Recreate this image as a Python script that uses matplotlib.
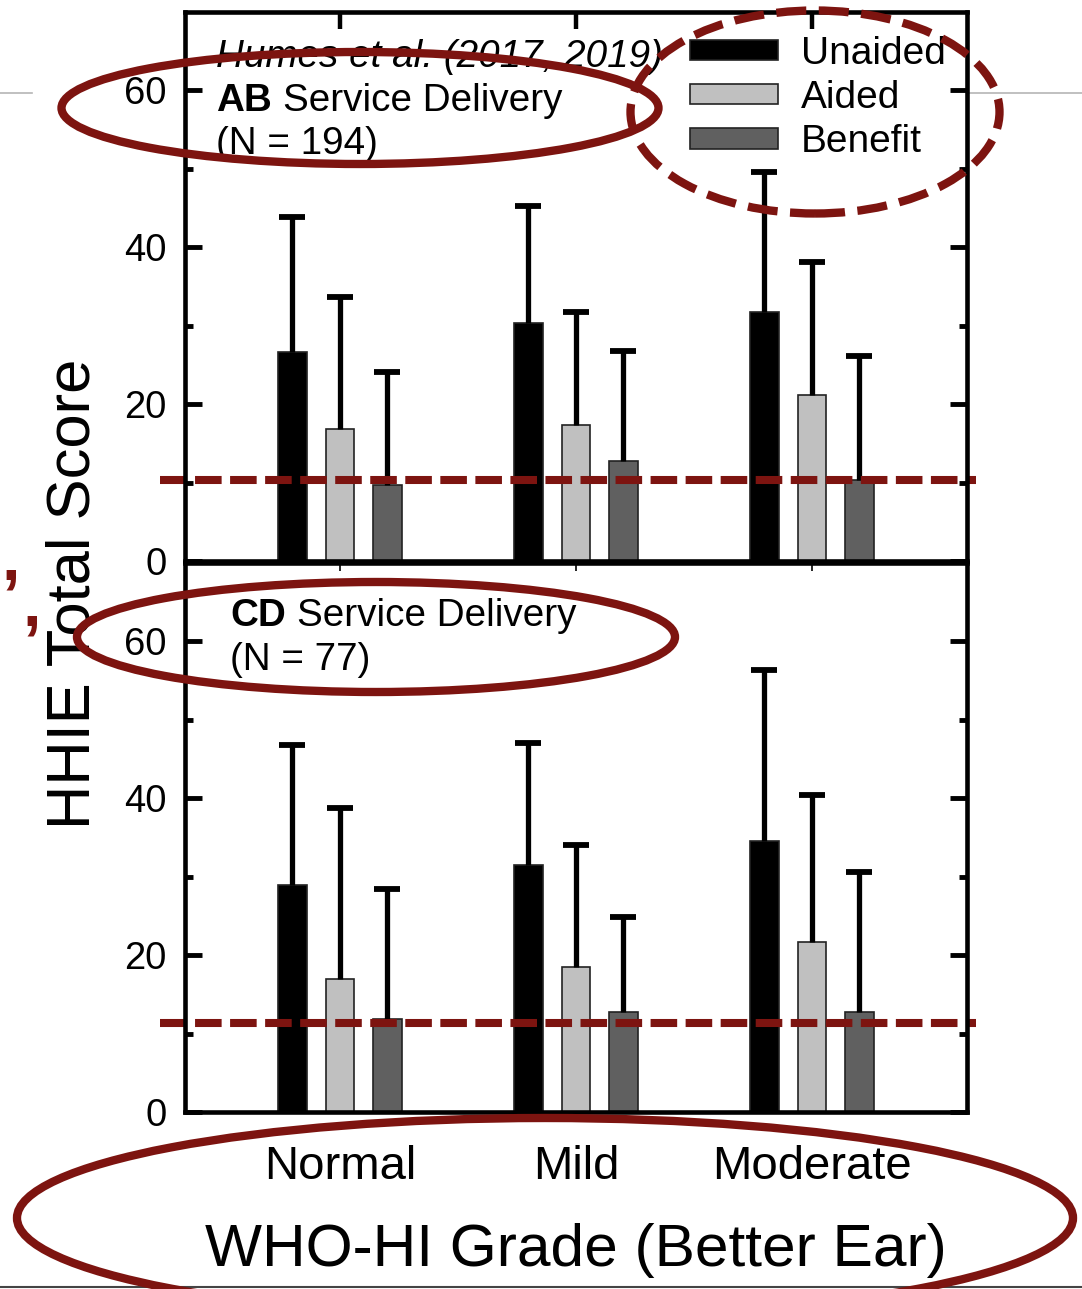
import matplotlib
matplotlib.use("Agg")
import matplotlib.pyplot as plt
import numpy as np
from matplotlib.patches import Ellipse
from matplotlib.lines import Line2D
import matplotlib.transforms as mtransforms

plt.rcParams['font.family'] = ['Liberation Sans', 'DejaVu Sans']

# ---------------- data ----------------
categories = ["Normal", "Mild", "Moderate"]
series = ["Unaided", "Aided", "Benefit"]

ab_unaided = [26.7, 30.4, 31.8]
ab_aided = [16.8, 17.3, 21.2]
ab_benefit = [9.7, 12.8, 10.3]
ab_unaided_sd = [17.1, 14.9, 17.8]
ab_aided_sd = [16.9, 14.4, 16.9]
ab_benefit_sd = [14.4, 14.0, 15.9]
ab_threshold = 10.3

cd_unaided = [28.9, 31.5, 34.5]
cd_aided = [17.0, 18.5, 21.7]
cd_benefit = [11.8, 12.8, 12.7]
cd_unaided_sd = [17.9, 15.6, 21.8]
cd_aided_sd = [21.8, 15.5, 18.7]
cd_benefit_sd = [16.6, 12.0, 17.9]
cd_threshold = 11.3

yticks = [0, 20, 40, 60]
minor_yticks = [10, 30, 50]

# ---------------- style ----------------
W, H = 1082, 1289
fig = plt.figure(figsize=(W / 100, H / 100), dpi=100)
fig.patch.set_facecolor("white")

RED = "#7d1410"
colors = ["#000000", "#c0c0c0", "#606060"]

def F(x, y):
    return (x / W, 1 - y / H)

left = 185 / W
width = (967 - 185) / W
ax1 = fig.add_axes([left, 1 - 561 / H, width, (561 - 12) / H])
ax2 = fig.add_axes([left, 1 - 1112 / H, width, (1112 - 563) / H])

x = np.arange(len(categories))
offsets = [-0.202, 0.0, 0.2]
bw = 0.122


def draw_panel(ax, means, sds, thr):
    handles = []
    for i, (m, s) in enumerate(zip(means, sds)):
        xs = x + offsets[i]
        b = ax.bar(xs, m, bw, color=colors[i], edgecolor="#222222",
                   linewidth=1.2, zorder=2, label=series[i])
        handles.append(b)
        top = np.array(m) + np.array(s)
        ax.vlines(xs, m, top, color="black", lw=3.8, zorder=3)
        ax.plot(xs, top, ls="none", marker="_", ms=19, mew=4.2,
                color="black", zorder=3)
    tr = mtransforms.blended_transform_factory(ax.transAxes, ax.transData)
    ax.plot([-0.032, 1.011], [thr, thr], color=RED, lw=5.8,
            ls=(0, (3.3, 1.05)), transform=tr, clip_on=False, zorder=5)
    ax.set_xlim(-0.657, 2.657)
    ax.set_ylim(0, 70)
    ax.set_yticks(yticks)
    ax.set_yticks(minor_yticks, minor=True)
    ax.set_xticks(x)
    ax.tick_params(axis="y", which="major", direction="in", length=12,
                   width=3.5, left=True, right=True, labelsize=27.5, pad=13)
    ax.tick_params(axis="y", which="minor", direction="in", length=6,
                   width=3.5, left=True, right=True)
    ax.tick_params(axis="x", which="major", direction="in", length=6,
                   width=1.2, top=True, bottom=True)
    for sp in ax.spines.values():
        sp.set_linewidth(3.3)
        sp.set_zorder(6)
    return handles


h = draw_panel(ax1, [ab_unaided, ab_aided, ab_benefit],
               [ab_unaided_sd, ab_aided_sd, ab_benefit_sd], ab_threshold)
draw_panel(ax2, [cd_unaided, cd_aided, cd_benefit],
           [cd_unaided_sd, cd_aided_sd, cd_benefit_sd], cd_threshold)

ax1.tick_params(axis="x", labelbottom=False)
ax1.xaxis.set_tick_params(which="major", length=12, width=3.2)
ax2.set_xticklabels(categories, fontsize=34)
ax2.tick_params(axis="x", pad=23.5)

# legend
leg = fig.legend(handles=h, labels=series, loc="upper left",
                 bbox_to_anchor=F(690, 36), frameon=False, fontsize=28,
                 borderpad=0, borderaxespad=0, handlelength=2.25,
                 handleheight=0.42, handletextpad=0.6, labelspacing=0.21)

# panel texts
fig.text(*F(216, 57), "Humes et al. (2017, 2019)", fontsize=27.8,
         style="italic", va="center", ha="left")
fig.text(*F(216, 101), "AB", fontsize=27.8, weight="bold", va="center", ha="left")
fig.text(*F(283, 101), "Service Delivery", fontsize=27.8, va="center", ha="left")
fig.text(*F(216, 144), "(N = 194)", fontsize=27.8, va="center", ha="left")

fig.text(*F(230, 616), "CD", fontsize=27.8, weight="bold", va="center", ha="left")
fig.text(*F(297, 616), "Service Delivery", fontsize=27.8, va="center", ha="left")
fig.text(*F(230, 660), "(N = 77)", fontsize=27.8, va="center", ha="left")

# axis labels
fig.text(*F(74, 594), "HHIE Total Score", fontsize=44.3, rotation=90,
         ha="center", va="center")
fig.text(*F(576, 1250), "WHO-HI Grade (Better Ear)", fontsize=43.5,
         ha="center", va="center")

# slide decorations
fig.add_artist(Line2D([0, 32 / W], [1 - 93 / H] * 2, color="#b5b5b5", lw=1.2,
                      transform=fig.transFigure))
fig.add_artist(Line2D([966 / W, 1], [1 - 93 / H] * 2, color="#b5b5b5", lw=1.2,
                      transform=fig.transFigure, zorder=0))
fig.add_artist(Line2D([0, 1], [1 - 1287 / H] * 2, color="#444444", lw=1.5,
                      transform=fig.transFigure))

def ell(cx, cy, w, h, ls="-"):
    e = Ellipse(F(cx, cy), w / W, h / H, fill=False, edgecolor=RED,
                lw=6, ls=ls, transform=fig.transFigure, clip_on=False,
                zorder=10)
    fig.add_artist(e)

ell(360, 108, 597, 112)
ell(815, 112, 369, 203, ls=(0, (3.6, 1.5)))
ell(376, 637, 598, 110)
ell(545, 1218, 1056, 200)

fig.text(*F(11, 563), ",", fontsize=48, weight="bold", color=RED,
         ha="center", va="center")
fig.text(*F(32, 608), ",", fontsize=48, weight="bold", color=RED,
         ha="center", va="center")

fig.savefig("out.png", dpi=100, facecolor="white")
